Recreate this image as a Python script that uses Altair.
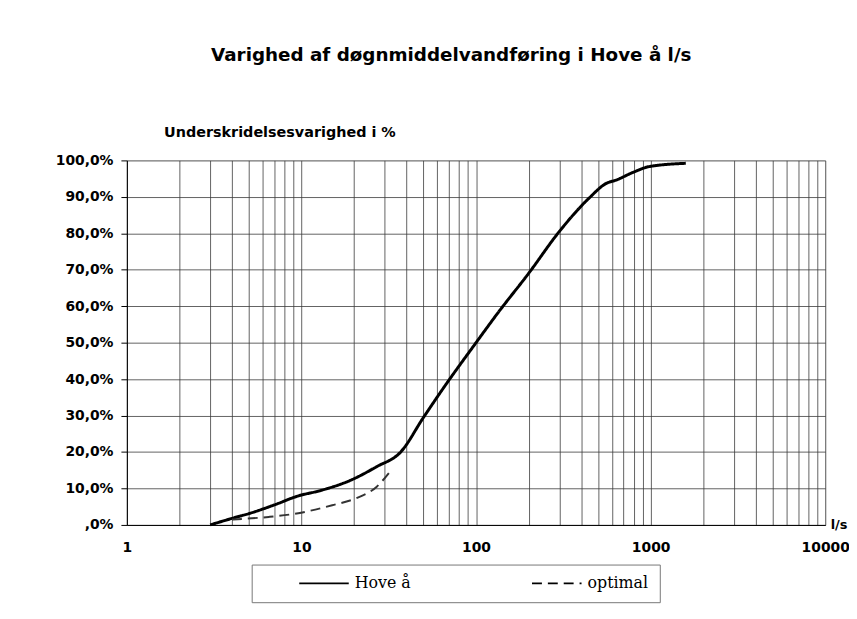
import altair as alt
import pandas as pd

# Hove å duration curve (discharge l/s, percentage of time below)
hove_q = [3.0, 4.0, 5.15, 7.0, 9.5, 13.0, 19.0, 27.0, 37.0, 50.0, 66.0, 100.0, 135.0, 200.0, 300.0, 445.0, 557.0, 634.0, 800.0, 980.0, 1590.0]
hove_pct = [0.0, 1.8, 3.3, 5.5, 7.9, 9.5, 12.2, 16.0, 20.0, 29.5, 38.0, 50.0, 58.5, 69.0, 80.5, 89.7, 93.7, 94.6, 96.8, 98.3, 99.2]

# optimal curve
opt_q = [4.0, 6.5, 9.0, 15.0, 21.0, 27.0, 32.0]
opt_pct = [1.5, 2.2, 3.0, 5.4, 7.5, 10.5, 14.5]

series_names = ["Hove å", "optimal"]
x_ticks = [m * 10 ** k for k in range(4) for m in range(1, 10)] + [10000]
x_label_values = [1, 10, 100, 1000, 10000]
y_ticks = [i / 10 for i in range(11)]

rows = []
for q, p in zip(hove_q, hove_pct):
    rows.append({"q": q, "p": p / 100, "serie": series_names[0]})
for q, p in zip(opt_q, opt_pct):
    rows.append({"q": q, "p": p / 100, "serie": series_names[1]})
df = pd.DataFrame(rows)
df["vaegt"] = df["serie"]
df["farve"] = df["serie"]

label_list = "[" + ",".join(str(v) for v in x_label_values) + "]"

chart = (
    alt.Chart(df)
    .mark_line(interpolate="monotone")
    .encode(
        x=alt.X(
            "q:Q",
            scale=alt.Scale(type="log", domain=[1, 10000]),
            axis=alt.Axis(
                values=x_ticks,
                labelExpr=f"indexof({label_list}, datum.value) >= 0 ? format(datum.value, 'd') : ''",
                title="l/s",
                titleAngle=0,
                titleAlign="left",
                titleBaseline="middle",
                titleX=710,
                titleY=0,
                titleFont="DejaVu Sans",
                titleFontSize=13,
                titleFontWeight="bold",
                titleColor="black",
                labelFont="DejaVu Sans",
                labelFontSize=14,
                labelFontWeight="bold",
                labelColor="black",
                labelPadding=16,
                labelFlush=False,
                labelOverlap=False,
                tickSize=0,
                domainColor="black",
                gridColor="#3a3a3a",
                gridWidth=1,
                gridOpacity=0.8,
            ),
        ),
        y=alt.Y(
            "p:Q",
            scale=alt.Scale(domain=[0, 1]),
            axis=alt.Axis(
                values=y_ticks,
                labelExpr="datum.value == 0 ? ',0%' : replace(format(datum.value, '.1%'), '.', ',')",
                title="Underskridelsesvarighed i %",
                titleAngle=0,
                titleAlign="left",
                titleBaseline="alphabetic",
                titleX=37,
                titleY=-24,
                titleFont="DejaVu Sans",
                titleFontSize=14.5,
                titleFontWeight="bold",
                titleColor="black",
                labelFont="DejaVu Sans",
                labelFontSize=14,
                labelFontWeight="bold",
                labelColor="black",
                labelPadding=8,
                tickSize=6,
                tickColor="black",
                domainColor="black",
                gridColor="#3a3a3a",
                gridWidth=1,
                gridOpacity=0.8,
            ),
        ),
        strokeDash=alt.StrokeDash(
            "serie:N",
            scale=alt.Scale(domain=series_names, range=[[1, 0], [10, 6]]),
            legend=alt.Legend(
                title=None,
                orient="none",
                legendX=126,
                legendY=408,
                direction="horizontal",
                symbolType="stroke",
                symbolSize=2500,
                clipHeight=16,
                symbolStrokeWidth=2,
                symbolStrokeColor="black",
                labelFont="DejaVu Serif",
                labelFontSize=16,
                labelColor="black",
                labelOffset=5,
                columnPadding=85,
                padding=11,
                symbolOffset=36,
                strokeColor="#777777",
                fillColor="white",
            ),
        ),
        strokeWidth=alt.StrokeWidth(
            "vaegt:N",
            scale=alt.Scale(range=[3, 2]),
            legend=None,
        ),
        color=alt.Color(
            "farve:N",
            scale=alt.Scale(range=["#000000", "#333333"]),
            legend=None,
        ),
    )
    .properties(
        width=705,
        height=368,
        autosize=alt.AutoSizeParams(type="none"),
        padding={"left": 120, "top": 151, "right": 24, "bottom": 80},
        title=alt.TitleParams(
            "Varighed af døgnmiddelvandføring i Hove å l/s",
            anchor="middle",
            dx=-25,
            font="DejaVu Sans",
            fontSize=18.5,
            fontWeight="bold",
            color="black",
            offset=61,
        ),
    )
    .configure_view(stroke=None)
    .configure(background="white")
)

chart.save("out.html", embed_options={"renderer": "svg", "actions": False})
